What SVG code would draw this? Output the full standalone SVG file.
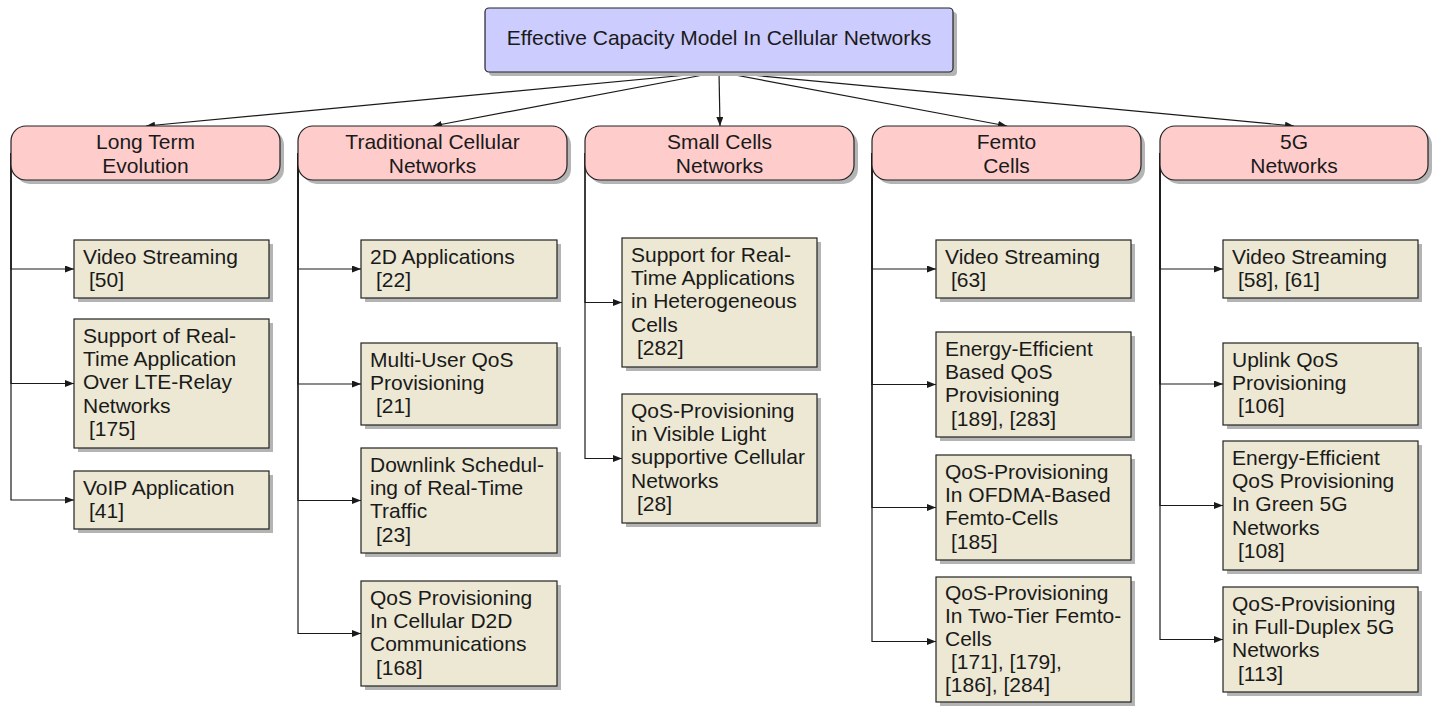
<svg xmlns="http://www.w3.org/2000/svg" width="1436" height="708" viewBox="0 0 1436 708">
<defs>
<marker id="arr" viewBox="0 0 9 7" refX="9" refY="3.5" markerWidth="9" markerHeight="7" markerUnits="userSpaceOnUse" orient="auto">
<path d="M0,0 L9,3.5 L0,7 z" fill="#1a1a1a"/>
</marker>
</defs>
<style>
text{font-family:"Liberation Sans",Arial,sans-serif;font-size:21px;fill:#1a1a1a}
.sh{fill:#b4b4b4}
.root{fill:#ccccff;stroke:#222;stroke-width:1.2}
.cat{fill:#ffcccc;stroke:#222;stroke-width:1.2}
.leaf{fill:#ece8d3;stroke:#222;stroke-width:1.2}
.c{text-anchor:middle}
#edges path{fill:none;stroke:#1a1a1a;stroke-width:1.2;marker-end:url(#arr)}
</style>
<rect width="1436" height="708" fill="#fff"/>

<g id="edges">
<path d="M719,72 L146,126"/>
<path d="M719,72 L433,126"/>
<path d="M719,72 L720,126"/>
<path d="M719,72 L1007,126"/>
<path d="M719,72 L1294,126"/>
<path d="M11,153 V269 H74"/>
<path d="M11,153 V383.5 H74"/>
<path d="M11,153 V500 H74"/>
<path d="M298,153 V269 H361"/>
<path d="M298,153 V384 H361"/>
<path d="M298,153 V500.5 H361"/>
<path d="M298,153 V633.5 H361"/>
<path d="M585,153 V302.5 H622"/>
<path d="M585,153 V458.5 H622"/>
<path d="M872,153 V269 H936"/>
<path d="M872,153 V384.5 H936"/>
<path d="M872,153 V507.5 H936"/>
<path d="M872,153 V641.5 H936"/>
<path d="M1160,153 V269 H1223"/>
<path d="M1160,153 V384 H1223"/>
<path d="M1160,153 V505.5 H1223"/>
<path d="M1160,153 V639.5 H1223"/>
</g>

<g id="root">
<rect class="sh" x="489" y="12" width="468" height="64" rx="4"/>
<rect class="root" x="485" y="8" width="468" height="64" rx="4"/>
<text class="c" x="719" y="45">Effective Capacity Model In Cellular Networks</text>
</g>

<g id="lte">
<rect class="sh" x="15" y="130" width="269" height="54" rx="15"/>
<rect class="cat" x="11" y="126" width="269" height="54" rx="15"/>
<text class="c" x="145.5" y="149.3">Long Term</text>
<text class="c" x="145.5" y="173.3">Evolution</text>
</g>
<g id="trad">
<rect class="sh" x="302" y="130" width="269" height="54" rx="15"/>
<rect class="cat" x="298" y="126" width="269" height="54" rx="15"/>
<text class="c" x="432.5" y="149.3">Traditional Cellular</text>
<text class="c" x="432.5" y="173.3">Networks</text>
</g>
<g id="small">
<rect class="sh" x="589" y="130" width="269" height="54" rx="15"/>
<rect class="cat" x="585" y="126" width="269" height="54" rx="15"/>
<text class="c" x="719.5" y="149.3">Small Cells</text>
<text class="c" x="719.5" y="173.3">Networks</text>
</g>
<g id="femto">
<rect class="sh" x="876" y="130" width="269" height="54" rx="15"/>
<rect class="cat" x="872" y="126" width="269" height="54" rx="15"/>
<text class="c" x="1006.5" y="149.3">Femto</text>
<text class="c" x="1006.5" y="173.3">Cells</text>
</g>
<g id="g5">
<rect class="sh" x="1164" y="130" width="268" height="54" rx="15"/>
<rect class="cat" x="1160" y="126" width="268" height="54" rx="15"/>
<text class="c" x="1294" y="149.3">5G</text>
<text class="c" x="1294" y="173.3">Networks</text>
</g>

<!-- LTE leaves -->
<g id="lte1">
<rect class="sh" x="78" y="244" width="195" height="58"/>
<rect class="leaf" x="74" y="240" width="195" height="58"/>
<text x="83" y="263.5">Video Streaming</text>
<text x="89" y="286.9">[50]</text>
</g>
<g id="lte2">
<rect class="sh" x="78" y="323" width="195" height="129"/>
<rect class="leaf" x="74" y="319" width="195" height="129"/>
<text x="83" y="342.5">Support of Real-</text>
<text x="83" y="365.9">Time Application</text>
<text x="83" y="389.3">Over LTE-Relay</text>
<text x="83" y="412.7">Networks</text>
<text x="89" y="436.1">[175]</text>
</g>
<g id="lte3">
<rect class="sh" x="78" y="475" width="195" height="58"/>
<rect class="leaf" x="74" y="471" width="195" height="58"/>
<text x="83" y="494.5">VoIP Application</text>
<text x="89" y="517.9">[41]</text>
</g>

<!-- Traditional leaves -->
<g id="trad1">
<rect class="sh" x="365" y="244" width="196" height="58"/>
<rect class="leaf" x="361" y="240" width="196" height="58"/>
<text x="370" y="263.5">2D Applications</text>
<text x="376" y="286.9">[22]</text>
</g>
<g id="trad2">
<rect class="sh" x="365" y="347" width="196" height="82"/>
<rect class="leaf" x="361" y="343" width="196" height="82"/>
<text x="370" y="366.5">Multi-User QoS</text>
<text x="370" y="389.9">Provisioning</text>
<text x="376" y="413.3">[21]</text>
</g>
<g id="trad3">
<rect class="sh" x="365" y="452" width="196" height="105"/>
<rect class="leaf" x="361" y="448" width="196" height="105"/>
<text x="370" y="471.5">Downlink Schedul-</text>
<text x="370" y="494.9">ing of Real-Time</text>
<text x="370" y="518.3">Traffic</text>
<text x="376" y="541.7">[23]</text>
</g>
<g id="trad4">
<rect class="sh" x="365" y="585" width="196" height="105"/>
<rect class="leaf" x="361" y="581" width="196" height="105"/>
<text x="370" y="604.5">QoS Provisioning</text>
<text x="370" y="627.9">In Cellular D2D</text>
<text x="370" y="651.3">Communications</text>
<text x="376" y="674.7">[168]</text>
</g>

<!-- Small cells leaves -->
<g id="small1">
<rect class="sh" x="626" y="242" width="195" height="129"/>
<rect class="leaf" x="622" y="238" width="195" height="129"/>
<text x="631" y="261.5">Support for Real-</text>
<text x="631" y="284.9">Time Applications</text>
<text x="631" y="308.3">in Heterogeneous</text>
<text x="631" y="331.7">Cells</text>
<text x="637" y="355.1">[282]</text>
</g>
<g id="small2">
<rect class="sh" x="626" y="398" width="195" height="129"/>
<rect class="leaf" x="622" y="394" width="195" height="129"/>
<text x="631" y="417.5">QoS-Provisioning</text>
<text x="631" y="440.9">in Visible Light</text>
<text x="631" y="464.3">supportive Cellular</text>
<text x="631" y="487.7">Networks</text>
<text x="637" y="511.1">[28]</text>
</g>

<!-- Femto leaves -->
<g id="femto1">
<rect class="sh" x="940" y="244" width="195" height="58"/>
<rect class="leaf" x="936" y="240" width="195" height="58"/>
<text x="945" y="263.5">Video Streaming</text>
<text x="951" y="286.9">[63]</text>
</g>
<g id="femto2">
<rect class="sh" x="940" y="336" width="195" height="105"/>
<rect class="leaf" x="936" y="332" width="195" height="105"/>
<text x="945" y="355.5">Energy-Efficient</text>
<text x="945" y="378.9">Based QoS</text>
<text x="945" y="402.3">Provisioning</text>
<text x="951" y="425.7">[189], [283]</text>
</g>
<g id="femto3">
<rect class="sh" x="940" y="459" width="195" height="105"/>
<rect class="leaf" x="936" y="455" width="195" height="105"/>
<text x="945" y="478.5">QoS-Provisioning</text>
<text x="945" y="501.9">In OFDMA-Based</text>
<text x="945" y="525.3">Femto-Cells</text>
<text x="951" y="548.7">[185]</text>
</g>
<g id="femto4">
<rect class="sh" x="940" y="581" width="195" height="125"/>
<rect class="leaf" x="936" y="577" width="195" height="125"/>
<text x="945" y="600">QoS-Provisioning</text>
<text x="945" y="623">In Two-Tier Femto-</text>
<text x="945" y="646">Cells</text>
<text x="951" y="669">[171], [179],</text>
<text x="945" y="692">[186], [284]</text>
</g>

<!-- 5G leaves -->
<g id="g5a">
<rect class="sh" x="1227" y="244" width="195" height="58"/>
<rect class="leaf" x="1223" y="240" width="195" height="58"/>
<text x="1232" y="263.5">Video Streaming</text>
<text x="1238" y="286.9">[58], [61]</text>
</g>
<g id="g5b">
<rect class="sh" x="1227" y="347" width="195" height="82"/>
<rect class="leaf" x="1223" y="343" width="195" height="82"/>
<text x="1232" y="366.5">Uplink QoS</text>
<text x="1232" y="389.9">Provisioning</text>
<text x="1238" y="413.3">[106]</text>
</g>
<g id="g5c">
<rect class="sh" x="1227" y="445" width="195" height="129"/>
<rect class="leaf" x="1223" y="441" width="195" height="129"/>
<text x="1232" y="464.5">Energy-Efficient</text>
<text x="1232" y="487.9">QoS Provisioning</text>
<text x="1232" y="511.3">In Green 5G</text>
<text x="1232" y="534.7">Networks</text>
<text x="1238" y="558.1">[108]</text>
</g>
<g id="g5d">
<rect class="sh" x="1227" y="591" width="195" height="105"/>
<rect class="leaf" x="1223" y="587" width="195" height="105"/>
<text x="1232" y="610.5">QoS-Provisioning</text>
<text x="1232" y="633.9">in Full-Duplex 5G</text>
<text x="1232" y="657.3">Networks</text>
<text x="1238" y="680.7">[113]</text>
</g>
</svg>
